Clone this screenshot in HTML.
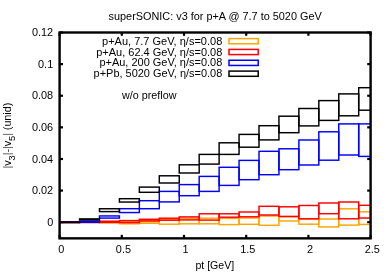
<!DOCTYPE html>
<html><head><meta charset="utf-8"><title>plot</title>
<style>html,body{margin:0;padding:0;background:#fff;}body{width:390px;height:273px;overflow:hidden;position:relative;font-family:"Liberation Sans",sans-serif;}</style></head>
<body>
<svg width="390" height="273" viewBox="0 0 390 273" style="position:absolute;left:0;top:0">
<defs><clipPath id="c"><rect x="59.6" y="32.5" width="311.0" height="205.85"/></clipPath></defs>
<rect x="0" y="0" width="390" height="273" fill="#fff"/>
<g stroke="#000" stroke-width="2.2"><line x1="59.60" y1="238.35" x2="59.60" y2="234.85"/><line x1="59.60" y1="32.5" x2="59.60" y2="35.8"/><line x1="121.80" y1="238.35" x2="121.80" y2="234.85"/><line x1="121.80" y1="32.5" x2="121.80" y2="35.8"/><line x1="184.00" y1="238.35" x2="184.00" y2="234.85"/><line x1="184.00" y1="32.5" x2="184.00" y2="35.8"/><line x1="246.20" y1="238.35" x2="246.20" y2="234.85"/><line x1="246.20" y1="32.5" x2="246.20" y2="35.8"/><line x1="308.40" y1="238.35" x2="308.40" y2="234.85"/><line x1="308.40" y1="32.5" x2="308.40" y2="35.8"/><line x1="370.60" y1="238.35" x2="370.60" y2="234.85"/><line x1="370.60" y1="32.5" x2="370.60" y2="35.8"/><line x1="59.6" y1="32.50" x2="63.0" y2="32.50"/><line x1="370.6" y1="32.50" x2="367.20000000000005" y2="32.50"/><line x1="59.6" y1="64.12" x2="63.0" y2="64.12"/><line x1="370.6" y1="64.12" x2="367.20000000000005" y2="64.12"/><line x1="59.6" y1="95.73" x2="63.0" y2="95.73"/><line x1="370.6" y1="95.73" x2="367.20000000000005" y2="95.73"/><line x1="59.6" y1="127.35" x2="63.0" y2="127.35"/><line x1="370.6" y1="127.35" x2="367.20000000000005" y2="127.35"/><line x1="59.6" y1="158.97" x2="63.0" y2="158.97"/><line x1="370.6" y1="158.97" x2="367.20000000000005" y2="158.97"/><line x1="59.6" y1="190.58" x2="63.0" y2="190.58"/><line x1="370.6" y1="190.58" x2="367.20000000000005" y2="190.58"/><line x1="59.6" y1="222.20" x2="63.0" y2="222.20"/><line x1="370.6" y1="222.20" x2="367.20000000000005" y2="222.20"/></g>
<g fill="none" stroke="#ffa500" stroke-width="1.45" clip-path="url(#c)"><rect x="59.60" y="222.20" width="19.94" height="0.40"/><rect x="79.54" y="222.00" width="19.94" height="0.60"/><rect x="99.48" y="222.00" width="19.94" height="1.00"/><rect x="119.42" y="222.00" width="19.94" height="1.80"/><rect x="139.36" y="221.50" width="19.94" height="1.80"/><rect x="159.30" y="219.60" width="19.94" height="4.60"/><rect x="179.24" y="218.30" width="19.94" height="5.50"/><rect x="199.18" y="218.20" width="19.94" height="5.60"/><rect x="219.12" y="218.40" width="19.94" height="6.20"/><rect x="239.06" y="218.00" width="19.94" height="6.30"/><rect x="259.00" y="216.00" width="19.94" height="9.30"/><rect x="278.94" y="216.80" width="19.94" height="4.20"/><rect x="298.88" y="219.00" width="19.94" height="5.20"/><rect x="318.82" y="219.00" width="19.94" height="7.90"/><rect x="338.76" y="208.80" width="19.94" height="16.30"/><rect x="358.70" y="211.80" width="16.90" height="12.60"/></g>
<g fill="none" stroke="#ff0000" stroke-width="1.45" clip-path="url(#c)"><rect x="59.60" y="222.10" width="19.94" height="0.40"/><rect x="79.54" y="221.60" width="19.94" height="0.80"/><rect x="99.48" y="221.20" width="19.94" height="1.10"/><rect x="119.42" y="220.60" width="19.94" height="2.00"/><rect x="139.36" y="219.30" width="19.94" height="1.60"/><rect x="159.30" y="218.20" width="19.94" height="2.00"/><rect x="179.24" y="216.90" width="19.94" height="3.00"/><rect x="199.18" y="213.80" width="19.94" height="6.30"/><rect x="219.12" y="213.80" width="19.94" height="3.40"/><rect x="239.06" y="212.00" width="19.94" height="4.80"/><rect x="259.00" y="206.30" width="19.94" height="8.70"/><rect x="278.94" y="206.80" width="19.94" height="9.60"/><rect x="298.88" y="205.50" width="19.94" height="13.30"/><rect x="318.82" y="203.00" width="19.94" height="10.70"/><rect x="338.76" y="202.00" width="19.94" height="16.80"/><rect x="358.70" y="205.30" width="16.90" height="12.70"/></g>
<g fill="none" stroke="#0000ff" stroke-width="1.45" clip-path="url(#c)"><rect x="59.60" y="222.10" width="19.94" height="0.40"/><rect x="79.54" y="221.20" width="19.94" height="1.10"/><rect x="99.48" y="215.95" width="19.94" height="2.15"/><rect x="119.42" y="208.70" width="19.94" height="3.85"/><rect x="139.36" y="200.70" width="19.94" height="8.00"/><rect x="159.30" y="191.40" width="19.94" height="10.50"/><rect x="179.24" y="184.60" width="19.94" height="11.10"/><rect x="199.18" y="176.40" width="19.94" height="15.00"/><rect x="219.12" y="167.30" width="19.94" height="18.10"/><rect x="239.06" y="160.40" width="19.94" height="19.30"/><rect x="259.00" y="151.30" width="19.94" height="23.40"/><rect x="278.94" y="148.80" width="19.94" height="20.90"/><rect x="298.88" y="140.00" width="19.94" height="25.00"/><rect x="318.82" y="131.80" width="19.94" height="28.40"/><rect x="338.76" y="123.90" width="19.94" height="31.10"/><rect x="358.70" y="123.90" width="16.90" height="32.50"/></g>
<g fill="none" stroke="#000000" stroke-width="1.45" clip-path="url(#c)"><rect x="59.60" y="222.00" width="19.94" height="0.40"/><rect x="79.54" y="218.90" width="19.94" height="1.00"/><rect x="99.48" y="208.75" width="19.94" height="2.85"/><rect x="119.42" y="198.70" width="19.94" height="3.35"/><rect x="139.36" y="187.10" width="19.94" height="5.20"/><rect x="159.30" y="175.80" width="19.94" height="7.20"/><rect x="179.24" y="164.80" width="19.94" height="8.20"/><rect x="199.18" y="154.40" width="19.94" height="9.70"/><rect x="219.12" y="142.80" width="19.94" height="11.60"/><rect x="239.06" y="134.40" width="19.94" height="12.80"/><rect x="259.00" y="125.70" width="19.94" height="14.20"/><rect x="278.94" y="116.20" width="19.94" height="16.50"/><rect x="298.88" y="108.50" width="19.94" height="17.40"/><rect x="318.82" y="100.60" width="19.94" height="19.80"/><rect x="338.76" y="93.90" width="19.94" height="21.90"/><rect x="358.70" y="87.70" width="16.90" height="22.50"/></g>
<rect x="229" y="38.60" width="29.2" height="5.2" fill="none" stroke="#ffa500" stroke-width="1.5"/>
<rect x="229" y="49.40" width="29.2" height="5.2" fill="none" stroke="#ff0000" stroke-width="1.5"/>
<rect x="229" y="60.25" width="29.2" height="5.2" fill="none" stroke="#0000ff" stroke-width="1.5"/>
<rect x="229" y="71.10" width="29.2" height="5.2" fill="none" stroke="#000000" stroke-width="1.5"/>
<rect x="59.6" y="32.5" width="311.0" height="205.85" fill="none" stroke="#000" stroke-width="2.4"/>
<g font-family="Liberation Sans, sans-serif" font-size="10.9" fill="#000" style="will-change:transform">
<text x="108.60" y="20.40" textLength="213.10" lengthAdjust="spacingAndGlyphs">superSONIC: v3 for p+A @ 7.7 to 5020 GeV</text>
<text x="102.00" y="44.90" textLength="120.30" lengthAdjust="spacingAndGlyphs">p+Au, 7.7 GeV, η/s=0.08</text>
<text x="96.20" y="55.50" textLength="126.10" lengthAdjust="spacingAndGlyphs">p+Au, 62.4 GeV, η/s=0.08</text>
<text x="99.40" y="66.10" textLength="122.90" lengthAdjust="spacingAndGlyphs">p+Au, 200 GeV, η/s=0.08</text>
<text x="93.60" y="76.90" textLength="128.70" lengthAdjust="spacingAndGlyphs">p+Pb, 5020 GeV, η/s=0.08</text>
<text x="122.00" y="98.60" textLength="54.50" lengthAdjust="spacingAndGlyphs">w/o preflow</text>
<text x="53.2" y="36.25" text-anchor="end">0.12</text>
<text x="53.2" y="67.87" text-anchor="end">0.1</text>
<text x="53.2" y="99.48" text-anchor="end">0.08</text>
<text x="53.2" y="131.10" text-anchor="end">0.06</text>
<text x="53.2" y="162.72" text-anchor="end">0.04</text>
<text x="53.2" y="194.33" text-anchor="end">0.02</text>
<text x="53.2" y="225.95" text-anchor="end">0</text>
<text x="61.20" y="253.0" text-anchor="middle">0</text>
<text x="123.40" y="253.0" text-anchor="middle">0.5</text>
<text x="185.60" y="253.0" text-anchor="middle">1</text>
<text x="247.80" y="253.0" text-anchor="middle">1.5</text>
<text x="310.00" y="253.0" text-anchor="middle">2</text>
<text x="372.20" y="253.0" text-anchor="middle">2.5</text>
<text x="195.40" y="269.10" textLength="38.80" lengthAdjust="spacingAndGlyphs">pt [GeV]</text>
<text transform="translate(11.0,168.5) rotate(-90)" textLength="65.8"><tspan fill="#555">|</tspan>v<tspan font-size="9.3" dy="3.7">3</tspan><tspan dy="-3.7" fill="#555">|</tspan><tspan fill="#444">-</tspan><tspan fill="#555">|</tspan>v<tspan font-size="9.3" dy="3.7">5</tspan><tspan dy="-3.7" fill="#555">|</tspan> (unid)</text>
</g>
</svg>
</body></html>
